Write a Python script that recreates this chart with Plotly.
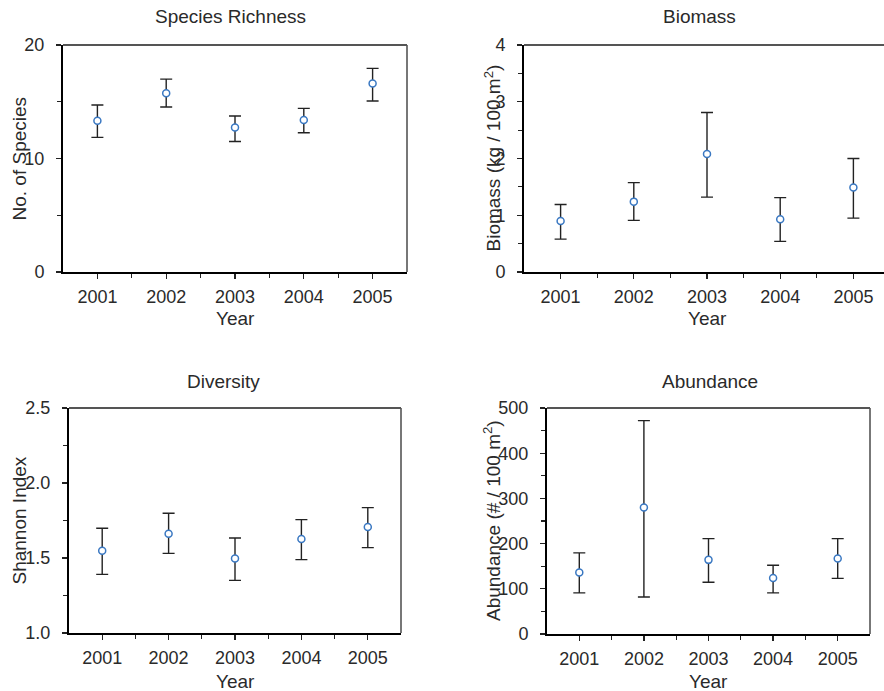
import plotly.graph_objects as go

W, H = 884, 691

years = [2001, 2002, 2003, 2004, 2005]

richness_mean = [13.33, 15.75, 12.74, 13.39, 16.61]
richness_upper = [14.72, 16.99, 13.75, 14.42, 17.94]
richness_lower = [11.86, 14.54, 11.50, 12.27, 15.07]

biomass_mean = [0.90, 1.24, 2.08, 0.93, 1.49]
biomass_upper = [1.19, 1.575, 2.81, 1.31, 2.00]
biomass_lower = [0.58, 0.91, 1.32, 0.54, 0.95]

diversity_mean = [1.549, 1.662, 1.496, 1.627, 1.707]
diversity_upper = [1.698, 1.798, 1.633, 1.756, 1.836]
diversity_lower = [1.391, 1.531, 1.351, 1.489, 1.569]

abundance_mean = [136, 280, 164, 124, 167]
abundance_upper = [179.5, 472, 211, 152, 211]
abundance_lower = [91, 82, 114.5, 91, 123]

FONT = "Arial, Liberation Sans, sans-serif"
TXT = "#2a2a2a"
FS = 18
FT = 19


def px_x(x):
    return x / W


def px_y(y):
    return 1 - y / H


panels = [
    dict(name="Species Richness", ytitle="No. of Species",
         mean=richness_mean, up=richness_upper, lo=richness_lower,
         xdom=(63, 407), ydom=(45, 272), xr=(2000.5, 2005.5),
         yr=(0, 20), dtick=10, minor=[5, 15], fmt="",
         ytitle_x=19, title_xy=(230, 17), year_xy=(235, 318), rightline=True),
    dict(name="Biomass", ytitle="Biomass (kg / 100 m<sup>2</sup>)",
         mean=biomass_mean, up=biomass_upper, lo=biomass_lower,
         xdom=(524, 884), ydom=(45, 272), xr=(2000.5, 2000.5 + 360 / 73.2),
         yr=(0, 4), dtick=1, minor=[0.5, 1.5, 2.5, 3.5], fmt="",
         ytitle_x=492, title_xy=(699, 17), year_xy=(707, 318), rightline=False),
    dict(name="Diversity", ytitle="Shannon Index",
         mean=diversity_mean, up=diversity_upper, lo=diversity_lower,
         xdom=(69, 401), ydom=(408, 633), xr=(2000.5, 2005.5),
         yr=(1.0, 2.5), dtick=0.5, minor=[1.25, 1.75, 2.25], fmt=".1f",
         ytitle_x=19, title_xy=(223, 382), year_xy=(235, 681), rightline=True),
    dict(name="Abundance", ytitle="Abundance (# / 100 m<sup>2</sup>)",
         mean=abundance_mean, up=abundance_upper, lo=abundance_lower,
         xdom=(547, 870), ydom=(408, 634), xr=(2000.5, 2005.5),
         yr=(0, 500), dtick=100, minor=[50, 150, 250, 350, 450], fmt="",
         ytitle_x=492, title_xy=(710, 381), year_xy=(708, 681), rightline=True),
]

fig = go.Figure()
layout = dict(
    template="none",
    width=W, height=H,
    margin=dict(l=0, r=0, t=0, b=0, pad=0, autoexpand=False),
    paper_bgcolor="white", plot_bgcolor="white",
    showlegend=False, hovermode=False,
    font=dict(family=FONT, size=FS, color=TXT),
    annotations=[], shapes=[],
)

for i, p in enumerate(panels, start=1):
    xa = "x" if i == 1 else f"x{i}"
    ya = "y" if i == 1 else f"y{i}"
    err_up = [u - m for u, m in zip(p["up"], p["mean"])]
    err_lo = [m - l for m, l in zip(p["mean"], p["lo"])]
    fig.add_trace(go.Scatter(
        x=years, y=p["mean"], mode="markers", xaxis=xa, yaxis=ya,
        marker=dict(symbol="circle", size=7, color="white",
                    line=dict(color="#3a78c2", width=1.5)),
        error_y=dict(type="data", symmetric=False, array=err_up,
                     arrayminus=err_lo, color="#222222", thickness=1.4,
                     width=6),
        cliponaxis=False,
    ))
    xkey = "xaxis" if i == 1 else f"xaxis{i}"
    ykey = "yaxis" if i == 1 else f"yaxis{i}"
    layout[xkey] = dict(
        domain=[px_x(p["xdom"][0]), px_x(p["xdom"][1])],
        anchor=ya, range=list(p["xr"]), automargin=False,
        tickvals=years, ticktext=[str(y) for y in years],
        ticks="outside", ticklen=5, tickwidth=1.2, tickcolor="#222222",
        showline=True, linecolor="#000000", linewidth=2,
        showgrid=False, zeroline=False, ticklabelstandoff=2,
        minor=dict(tickvals=[2001.5, 2002.5, 2003.5, 2004.5], ticks="outside",
                   ticklen=4, tickwidth=1.2, tickcolor="#222222", showgrid=False),
        tickfont=dict(size=FS, color=TXT, family=FONT),
        fixedrange=True,
    )
    layout[ykey] = dict(
        domain=[px_y(p["ydom"][1]), px_y(p["ydom"][0])],
        anchor=xa, range=list(p["yr"]), dtick=p["dtick"], tick0=p["yr"][0],
        tickformat=p["fmt"], automargin=False,
        ticks="outside", ticklen=5, tickwidth=1.2, tickcolor="#222222",
        showline=True, linecolor="#000000", linewidth=2,
        showgrid=False, zeroline=False, ticklabelstandoff=8,
        minor=dict(tickvals=p["minor"], ticks="outside", ticklen=4,
                   tickwidth=1.2, tickcolor="#222222", showgrid=False),
        tickfont=dict(size=FS, color=TXT, family=FONT),
        fixedrange=True,
    )
    layout["shapes"].append(dict(
        type="line", xref=f"{xa} domain", yref=f"{ya} domain",
        x0=0, x1=1, y0=1, y1=1, line=dict(color="#555555", width=2)))
    if p["rightline"]:
        layout["shapes"].append(dict(
            type="line", xref=f"{xa} domain", yref=f"{ya} domain",
            x0=1, x1=1, y0=0, y1=1, line=dict(color="#555555", width=1.6)))
    layout["annotations"].append(dict(
        text=p["name"], x=px_x(p["title_xy"][0]), y=px_y(p["title_xy"][1]),
        xref="paper", yref="paper", xanchor="center", yanchor="middle",
        showarrow=False, font=dict(size=FT, color=TXT, family=FONT)))
    layout["annotations"].append(dict(
        text="Year", x=px_x(p["year_xy"][0]), y=px_y(p["year_xy"][1]),
        xref="paper", yref="paper", xanchor="center", yanchor="middle",
        showarrow=False, font=dict(size=FT, color=TXT, family=FONT)))
    yc = (p["ydom"][0] + p["ydom"][1]) / 2
    layout["annotations"].append(dict(
        text=p["ytitle"], x=px_x(p["ytitle_x"]), y=px_y(yc),
        xref="paper", yref="paper", xanchor="center", yanchor="middle",
        textangle=-90, showarrow=False,
        font=dict(size=FT, color=TXT, family=FONT)))

fig.update_layout(**layout)
fig.write_html("out.html",
               config={"displayModeBar": False, "staticPlot": True},
               post_script="document.body.style.margin='0';document.body.style.overflow='hidden';")
